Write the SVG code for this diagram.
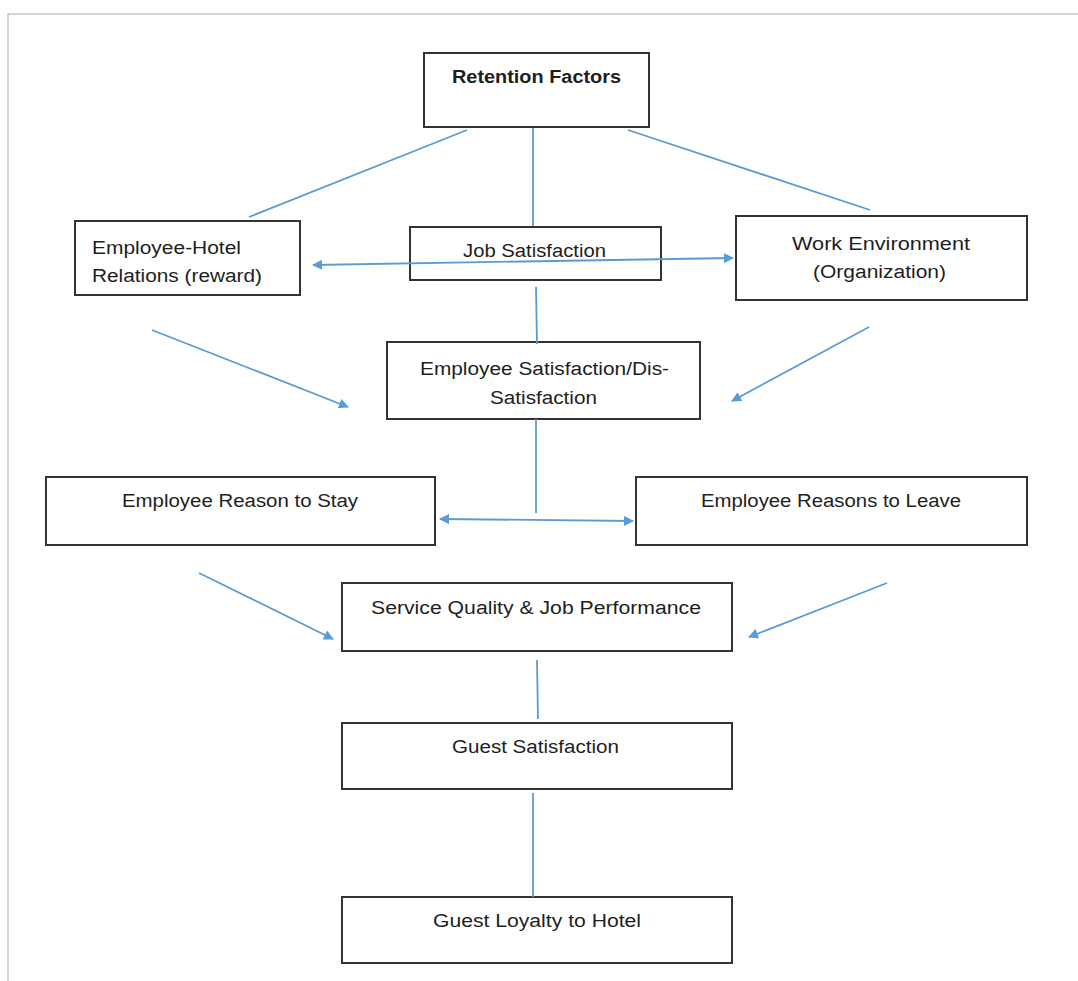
<svg xmlns="http://www.w3.org/2000/svg" width="1078" height="981" viewBox="0 0 1078 981">
<defs>
<marker id="ah" viewBox="0 0 10 10" refX="9" refY="5" markerWidth="12" markerHeight="10" markerUnits="userSpaceOnUse" orient="auto-start-reverse">
<path d="M0,0 L10,5 L0,10 z" fill="#5b9bd5"/>
</marker>
<style>
.box{fill:#fff;stroke:#333;stroke-width:2}
.t{font-family:"Liberation Sans",Arial,sans-serif;font-size:18px;fill:#1e1e1e;text-anchor:start}
.b{font-weight:bold}
.c{stroke:#5b9bd5;stroke-width:1.8;fill:none}
</style>
</defs>
<rect width="1078" height="981" fill="#fff"/>
<path d="M8,981 L8,14 L1078,14" fill="none" stroke="#c8c8c8" stroke-width="1.5"/>
<g id="nodes">
<g id="n-retention"><rect class="box" x="424" y="53" width="225" height="74"/><text class="t b" x="452" y="83" textLength="169" lengthAdjust="spacingAndGlyphs">Retention Factors</text></g>
<g id="n-ehr"><rect class="box" x="75" y="221" width="225" height="74"/><text class="t" x="92" y="254" textLength="149" lengthAdjust="spacingAndGlyphs">Employee-Hotel</text><text class="t" x="92" y="282" textLength="170" lengthAdjust="spacingAndGlyphs">Relations (reward)</text></g>
<g id="n-jobsat"><rect class="box" x="410" y="227" width="251" height="53"/><text class="t" x="463" y="257" textLength="143" lengthAdjust="spacingAndGlyphs">Job Satisfaction</text></g>
<g id="n-workenv"><rect class="box" x="736" y="216" width="291" height="84"/><text class="t" x="792" y="250" textLength="178" lengthAdjust="spacingAndGlyphs">Work Environment</text><text class="t" x="813" y="278" textLength="133" lengthAdjust="spacingAndGlyphs">(Organization)</text></g>
<g id="n-empsat"><rect class="box" x="387" y="342" width="313" height="77"/><text class="t" x="420" y="375" textLength="249" lengthAdjust="spacingAndGlyphs">Employee Satisfaction/Dis-</text><text class="t" x="490" y="404" textLength="107" lengthAdjust="spacingAndGlyphs">Satisfaction</text></g>
<g id="n-stay"><rect class="box" x="46" y="477" width="389" height="68"/><text class="t" x="122" y="507" textLength="236" lengthAdjust="spacingAndGlyphs">Employee Reason to Stay</text></g>
<g id="n-leave"><rect class="box" x="636" y="477" width="391" height="68"/><text class="t" x="701" y="507" textLength="260" lengthAdjust="spacingAndGlyphs">Employee Reasons to Leave</text></g>
<g id="n-service"><rect class="box" x="342" y="583" width="390" height="68"/><text class="t" x="371" y="614" textLength="330" lengthAdjust="spacingAndGlyphs">Service Quality &amp; Job Performance</text></g>
<g id="n-guestsat"><rect class="box" x="342" y="723" width="390" height="66"/><text class="t" x="452" y="753" textLength="167" lengthAdjust="spacingAndGlyphs">Guest Satisfaction</text></g>
<g id="n-loyalty"><rect class="box" x="342" y="897" width="390" height="66"/><text class="t" x="433" y="927" textLength="208" lengthAdjust="spacingAndGlyphs">Guest Loyalty to Hotel</text></g>
</g>
<g id="connectors">
<line class="c" x1="467" y1="130" x2="249" y2="217"/>
<line class="c" x1="533" y1="128" x2="533" y2="226"/>
<line class="c" x1="628" y1="130" x2="870" y2="210"/>
<line class="c" x1="313" y1="265" x2="733" y2="258" marker-start="url(#ah)" marker-end="url(#ah)"/>
<line class="c" x1="536" y1="287" x2="537" y2="344"/>
<line class="c" x1="152" y1="330" x2="348" y2="407" marker-end="url(#ah)"/>
<line class="c" x1="869" y1="327" x2="732" y2="401" marker-end="url(#ah)"/>
<line class="c" x1="536" y1="419" x2="536" y2="513"/>
<line class="c" x1="440" y1="519" x2="633" y2="521" marker-start="url(#ah)" marker-end="url(#ah)"/>
<line class="c" x1="199" y1="573" x2="333" y2="639" marker-end="url(#ah)"/>
<line class="c" x1="887" y1="583" x2="749" y2="637" marker-end="url(#ah)"/>
<line class="c" x1="537" y1="660" x2="538" y2="719"/>
<line class="c" x1="533" y1="793" x2="533" y2="897"/>
</g>
</svg>
